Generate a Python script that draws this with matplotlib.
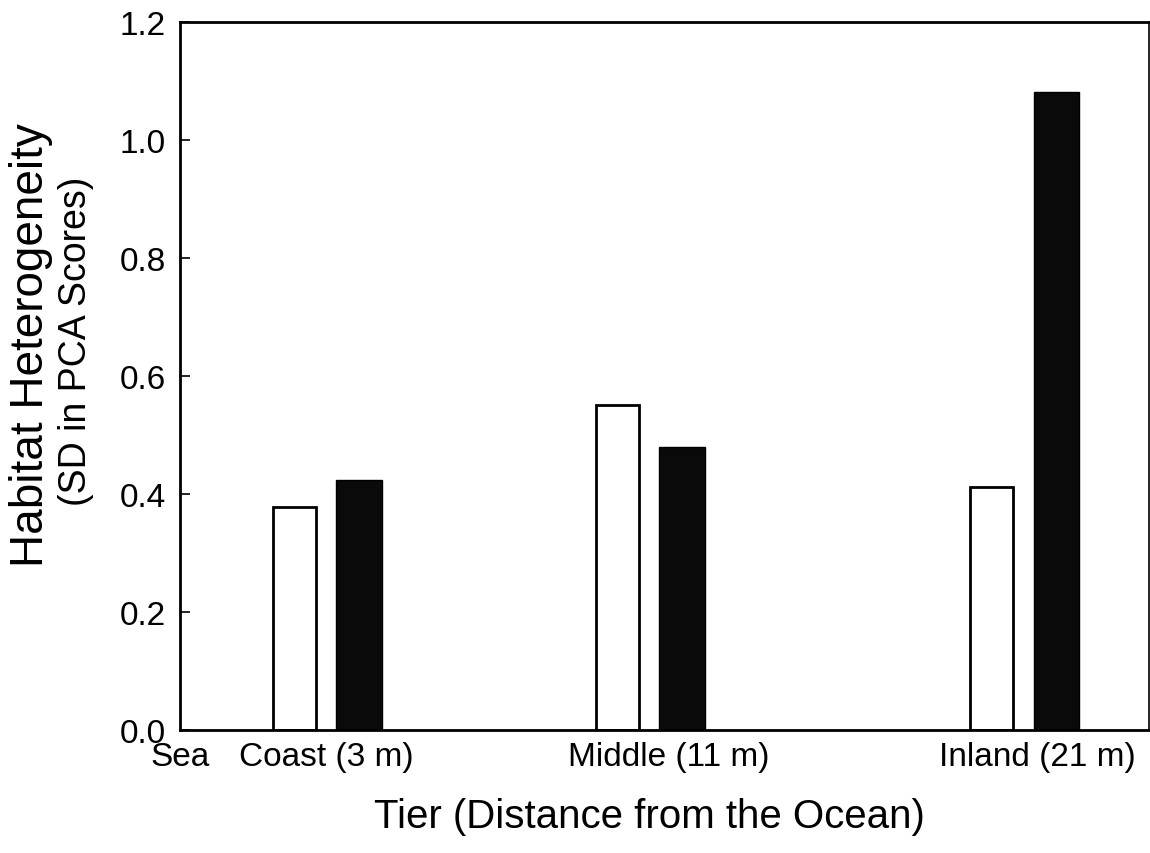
import matplotlib
matplotlib.use("Agg")
import matplotlib.pyplot as plt
import numpy as np

plt.rcParams['font.family'] = ['Liberation Sans', 'DejaVu Sans']

# Data
tiers = ["Coast (3 m)", "Middle (11 m)", "Inland (21 m)"]
group_pos = [1.0, 3.2, 5.75]
open_vals = [0.378, 0.551, 0.412]
filled_vals = [0.424, 0.480, 1.081]
tick_pos = [0.0, 1.0, 3.33, 5.84]
tick_labels = ["Sea", "Coast (3 m)", "Middle (11 m)", "Inland (21 m)"]
yticks = [0.0, 0.2, 0.4, 0.6, 0.8, 1.0, 1.2]

fig = plt.figure(figsize=(11.5, 8.54), dpi=100)
ax = fig.add_axes([0.1565, 0.144, 0.8425, 0.829])

gp = np.array(group_pos)
w = 0.29
off = 0.22
ax.bar(gp - off, open_vals, width=w, color='white', edgecolor='black', linewidth=2)
ax.bar(gp + off, filled_vals, width=w + 0.02, color='#0a0a0a', edgecolor='black', linewidth=1)

ax.set_xlim(0, 6.6)
ax.set_ylim(0, 1.2)
ax.set_yticks(yticks)
ax.set_yticklabels([f"{v:.1f}" for v in yticks], fontsize=24)
ax.set_xticks(tick_pos)
ax.set_xticklabels(tick_labels, fontsize=24)
ax.tick_params(axis='y', direction='in', length=7, width=1.2, pad=10)
ax.tick_params(axis='x', length=0, pad=8)

for s in ['left', 'bottom', 'top']:
    ax.spines[s].set_linewidth(2)
ax.spines['right'].set_linewidth(1.2)

ax.set_xlabel("Tier (Distance from the Ocean)", fontsize=29, labelpad=14)
ax.xaxis.set_label_coords(0.485, -0.095)
fig.text(0.027, 0.596, "Habitat Heterogeneity", rotation=90, fontsize=33,
         ha='center', va='center')
fig.text(0.066, 0.6, "(SD in PCA Scores)", rotation=90, fontsize=27,
         ha='center', va='center')

fig.savefig("out.png", dpi=100)
